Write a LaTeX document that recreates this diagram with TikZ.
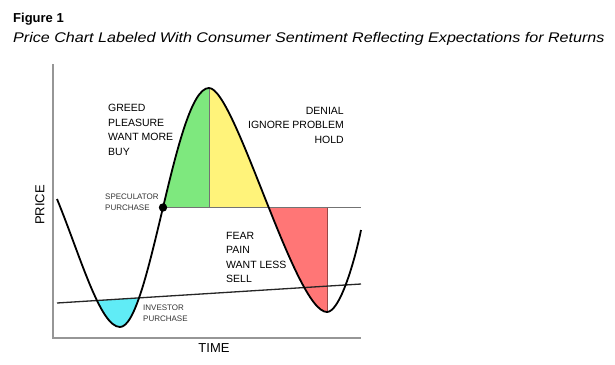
\documentclass[tikz,border=0pt]{standalone}
\usepackage{fontspec}
\setmainfont{Liberation Sans}
\usepackage{graphicx}

\definecolor{greedgreen}{RGB}{126,232,126}
\definecolor{denialyellow}{RGB}{255,243,122}
\definecolor{fearred}{RGB}{255,118,118}
\definecolor{investcyan}{RGB}{96,236,246}
\definecolor{axisgrey}{RGB}{150,150,150}

\tikzset{axis/.style = {draw = axisgrey, line width = 1.4pt},
         priceline/.style = {draw = black, line width = 1.8pt},
         trendline/.style = {draw = black!85, line width = 1.3pt},
         thinline/.style = {draw = #1, line width = 0.8pt},
         thinline/.default = black!55,
         biglabel/.style = {font = \fontsize{10.5}{14.5}\selectfont, inner sep = 0pt, align = left},
         smalllabel/.style = {font = \fontsize{8}{11}\selectfont, inner sep = 0pt, align = left, text = black!80},
         axislabel/.style = {font = \fontsize{13}{15}\selectfont, inner sep = 0pt}
        }

\begin{document}
\begin{tikzpicture}[x = 1pt, y = -1pt]
  \useasboundingbox (0,0) rectangle (615,364);

  % title
  \node[anchor = north west, inner sep = 0pt, font = \bfseries\fontsize{13}{15}\selectfont] (fig) at (13,13) {Figure 1};
  \node[anchor = north west, inner sep = 0pt, font = \itshape\fontsize{14}{16}\selectfont] (caption) at (13,32)
       {\scalebox{1.15}[1]{Price Chart Labeled With Consumer Sentiment Reflecting Expectations for Returns}};

  % axes
  \coordinate (ytop) at (53,64);
  \coordinate (origin) at (53,338);
  \coordinate (xend) at (361,338);

  % curve points
  \coordinate (start) at (57,199);
  \coordinate (low1) at (120,327);
  \coordinate (peak) at (209,88);
  \coordinate (low2) at (327,312);
  \coordinate (finish) at (361,230);
  \coordinate (spec) at (163,207.5);
  \coordinate (hline) at (361,207.5);
  \coordinate (trendA) at (57,303);
  \coordinate (trendB) at (361,284);

  % investor zone
  \begin{scope}
    \clip (trendA) -- (trendB) -- (361,364) -- (57,364) -- cycle;
    \fill[investcyan] (start) .. controls (80,255) and (100,327) .. (low1)
                             .. controls (150,327) and (175,88) .. (peak) -- cycle;
  \end{scope}
  % greed and denial zones
  \begin{scope}
    \clip (150,0) rectangle (209,207.5);
    \fill[greedgreen] (low1) .. controls (150,327) and (175,88) .. (peak)
                             .. controls (235,88) and (295,312) .. (low2) -- cycle;
  \end{scope}
  \begin{scope}
    \clip (209,0) rectangle (361,207.5);
    \fill[denialyellow] (low1) .. controls (150,327) and (175,88) .. (peak)
                               .. controls (235,88) and (295,312) .. (low2) -- cycle;
  \end{scope}
  % fear zone
  \begin{scope}
    \clip (209,207.5) rectangle (327,364);
    \fill[fearred] (peak) .. controls (235,88) and (295,312) .. (low2) -- (327,88) -- cycle;
  \end{scope}

  \draw[thinline] (spec) -- (hline);
  \draw[thinline] (peak) -- (209,207.5);
  \draw[thinline = fearred!60!black] (327,207.5) -- (low2);

  \draw[axis] (ytop) -- (origin) -- (xend);
  \draw[trendline] (trendA) -- (trendB);
  \draw[priceline] (start) .. controls (80,255) and (100,327) .. (low1)
                           .. controls (150,327) and (175,88) .. (peak)
                           .. controls (235,88) and (295,312) .. (low2)
                           .. controls (340,312) and (355,260) .. (finish);
  \fill (spec) circle (4.2pt);

  % labels
  \node[biglabel, anchor = north west] (greed) at (108,104) {GREED\\PLEASURE\\WANT MORE\\BUY};
  \node[biglabel, anchor = north east, align = right] (denial) at (344,107) {DENIAL\\IGNORE PROBLEM\\HOLD};
  \node[biglabel, anchor = north west] (fear) at (226,232) {FEAR\\PAIN\\WANT LESS\\SELL};
  \node[smalllabel, anchor = north west] (speculator) at (105,194) {SPECULATOR\\PURCHASE};
  \node[smalllabel, anchor = north west] (investor) at (143,305) {INVESTOR\\PURCHASE};
  \node[axislabel] (time) at (214,348.5) {TIME};
  \node[axislabel, rotate = 90] (price) at (40,205) {PRICE};
\end{tikzpicture}
\end{document}
